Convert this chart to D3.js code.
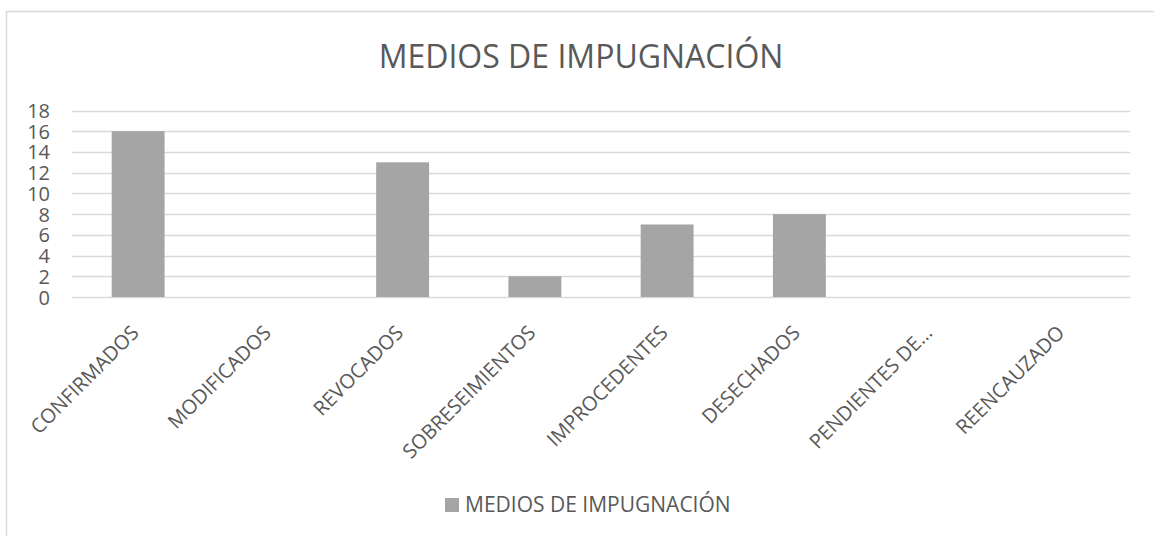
<!DOCTYPE html>
<html>
<head>
<meta charset="utf-8">
<script src="https://cdn.jsdelivr.net/npm/d3@7"></script>
<style>
  body { margin: 0; background: #fff; }
  text { font-family: "Open Sans", sans-serif; fill: #595959; }
</style>
</head>
<body>
<script>
var categories = ["CONFIRMADOS", "MODIFICADOS", "REVOCADOS", "SOBRESEIMIENTOS",
                  "IMPROCEDENTES", "DESECHADOS", "PENDIENTES DE…", "REENCAUZADO"];
var values = [16, 0, 13, 2, 7, 8, 0, 0];
var yTicks = [0, 2, 4, 6, 8, 10, 12, 14, 16, 18];
var seriesName = "MEDIOS DE IMPUGNACIÓN";
var chartTitle = "MEDIOS DE IMPUGNACIÓN";

var width = 1154, height = 536;
var margin = {top: 110.5, right: 24, bottom: 239, left: 72};

var svg = d3.select("body")
  .append("svg")
  .attr("width", width)
  .attr("height", height);

// chart area border
svg.append("rect")
  .attr("x", 6.5)
  .attr("y", 11.5)
  .attr("width", width + 10)
  .attr("height", height + 10)
  .attr("fill", "none")
  .attr("stroke", "#d9d9d9")
  .attr("stroke-width", 1.5);

var xScale = d3.scaleBand()
  .domain(categories)
  .range([margin.left, width - margin.right])
  .paddingInner(0.6)
  .paddingOuter(0.3);

var yScale = d3.scaleLinear()
  .domain([0, 18])
  .range([height - margin.bottom, margin.top]);

// gridlines
svg.append("g")
  .selectAll("line")
  .data(yTicks)
  .enter().append("line")
  .attr("x1", margin.left)
  .attr("x2", width - margin.right)
  .attr("y1", function(d) { return Math.round(yScale(d)) + 0.5; })
  .attr("y2", function(d) { return Math.round(yScale(d)) + 0.5; })
  .attr("stroke", "#d9d9d9")
  .attr("stroke-width", 1.5);

// bars
svg.append("g")
  .selectAll("rect")
  .data(values)
  .enter().append("rect")
  .attr("x", function(d, i) { return xScale(categories[i]); })
  .attr("y", function(d) { return yScale(d); })
  .attr("width", xScale.bandwidth())
  .attr("height", function(d) { return yScale(0) - yScale(d); })
  .attr("fill", "#a5a5a5");

// y axis labels
var yAxis = svg.append("g")
  .attr("transform", "translate(50,0)")
  .call(d3.axisLeft(yScale).tickValues(yTicks).tickSize(0).tickPadding(0));
yAxis.select(".domain").remove();
yAxis.selectAll("text")
  .attr("font-size", 20)
  .attr("dy", "0.35em")
  .style("font-family", "Open Sans, sans-serif")
  .style("fill", "#595959");

// x axis labels (ticks already sit at band centers)
var xAxis = svg.append("g")
  .attr("transform", "translate(0," + yScale(0) + ")")
  .call(d3.axisBottom(xScale).tickSize(0).tickPadding(0));
xAxis.select(".domain").remove();
xAxis.selectAll("text")
  .attr("font-size", 20)
  .attr("y", 0)
  .attr("dy", 0)
  .attr("text-anchor", "end")
  .attr("transform", "translate(2,37) rotate(-45)")
  .style("font-family", "Open Sans, sans-serif")
  .style("fill", "#595959");

// title
svg.append("text")
  .attr("x", 581)
  .attr("y", 68)
  .attr("text-anchor", "middle")
  .attr("font-size", 32)
  .text(chartTitle);

// legend
svg.append("rect")
  .attr("x", 445)
  .attr("y", 498)
  .attr("width", 14)
  .attr("height", 14)
  .attr("fill", "#a5a5a5");

svg.append("text")
  .attr("x", 465)
  .attr("y", 512)
  .attr("font-size", 21)
  .text(seriesName);
</script>
</body>
</html>
